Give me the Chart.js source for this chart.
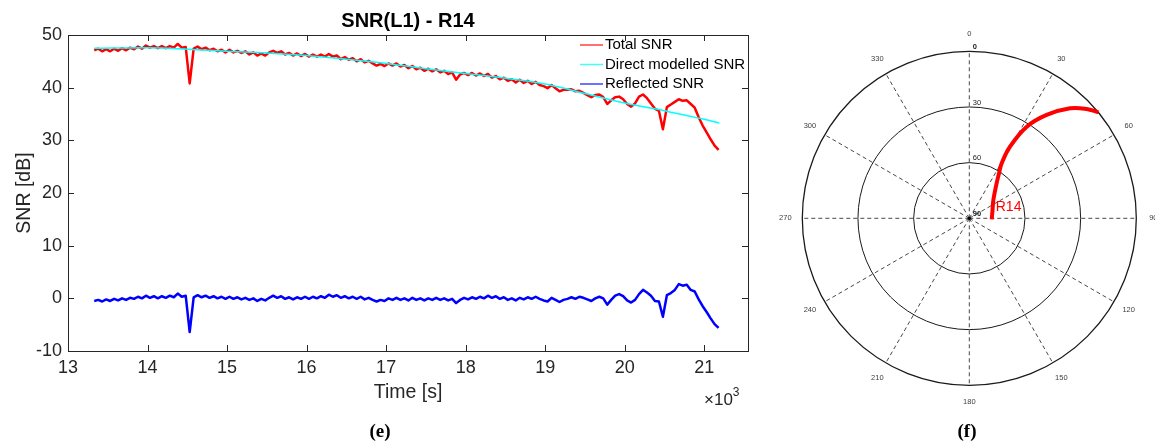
<!DOCTYPE html>
<html>
<head>
<meta charset="utf-8">
<script src="https://cdn.jsdelivr.net/npm/chart.js@4.4.0/dist/chart.umd.min.js"></script>
<style>
    html, body { margin: 0; padding: 0; background: #fff; }
    #wrap { position: relative; width: 1155px; height: 446px; overflow: hidden; }
    canvas { position: absolute; top: 0; }
    #snr-chart { left: 0; }
    #sky-chart { left: 755px; }
</style>
</head>
<body>
<div id="wrap">
    <canvas id="snr-chart" width="755" height="446"></canvas>
    <canvas id="sky-chart" width="400" height="446"></canvas>
</div>
<script>
const SANS = '"Liberation Sans", Arial, Helvetica, sans-serif';
const SERIF = '"Liberation Serif", "Times New Roman", serif';
const AXIS_COLOR = '#262626';

// SNR(L1) samples [dB], one every snrStep seconds starting at snrStart
const snrStart = 13330;
const snrStep = 50;
const totalSNR = [
    47.1, 47.4, 46.9, 47.3, 46.9, 47.4, 47.0, 47.5, 47.1, 47.6,
    47.3, 47.8, 47.4, 48.0, 47.6, 47.9, 47.5, 47.9, 47.5, 47.9,
    47.6, 48.3, 47.6, 47.7, 40.8, 47.4, 47.8, 47.3, 47.6, 47.1,
    47.4, 46.9, 47.2, 46.7, 47.2, 46.7, 47.0, 46.6, 46.9, 46.3,
    46.7, 46.1, 46.5, 46.1, 46.7, 47.0, 46.6, 46.9, 46.3, 46.6,
    46.1, 46.5, 46.0, 46.4, 45.9, 46.3, 45.9, 46.3, 45.9, 46.4,
    45.9, 46.1, 45.4, 45.8, 45.3, 45.6, 45.0, 45.4, 44.8, 45.1,
    44.6, 44.2, 44.5, 44.1, 44.6, 44.2, 44.6, 44.0, 44.3, 43.7,
    44.1, 43.5, 43.8, 43.2, 43.6, 43.1, 43.5, 42.9, 43.2, 42.6,
    42.9, 41.5, 42.5, 42.8, 42.4, 42.8, 42.3, 42.7, 42.2, 42.6,
    41.9, 42.2, 41.6, 41.9, 41.3, 41.6, 41.0, 41.5, 40.9, 41.3,
    40.7, 41.1, 40.5, 40.3, 39.9, 40.5, 39.9, 39.3, 39.6, 39.6,
    39.7, 39.3, 39.4, 39.0, 38.6, 38.2, 38.6, 38.7, 38.2, 36.9,
    37.6, 38.2, 38.3, 37.8, 36.9, 36.4, 37.0, 38.3, 38.7, 38.0,
    37.0, 36.0, 35.6, 32.1, 36.3, 36.8, 37.3, 37.8, 37.5, 37.6,
    36.9, 36.2, 34.4, 32.8, 31.5, 30.2, 29.0, 28.2
];
const reflectedSNR = [
    -0.5, -0.3, -0.6, -0.2, -0.5, -0.1, -0.4, 0.0, -0.3, 0.1,
    -0.1, 0.3, 0.0, 0.5, 0.1, 0.4, 0.0, 0.4, 0.1, 0.5,
    0.2, 0.9, 0.3, 0.5, -6.4, 0.2, 0.6, 0.2, 0.5, 0.1,
    0.4, 0.0, 0.3, -0.1, 0.3, -0.1, 0.2, -0.2, 0.1, -0.3,
    0.0, -0.5, -0.1, -0.4, 0.1, 0.5, 0.1, 0.4, -0.1, 0.2,
    -0.2, 0.2, -0.1, 0.3, -0.1, 0.3, 0.0, 0.4, 0.1, 0.7,
    0.3, 0.6, 0.1, 0.4, 0.0, 0.3, -0.1, 0.3, -0.2, 0.1,
    -0.3, -0.6, -0.3, -0.5, 0.0, -0.3, 0.1, -0.3, 0.0, -0.4,
    0.1, -0.3, 0.0, -0.4, 0.0, -0.3, 0.1, -0.3, 0.0, -0.4,
    -0.1, -0.9, -0.3, 0.1, -0.2, 0.2, -0.1, 0.3, 0.0, 0.5,
    0.1, 0.4, -0.1, 0.2, -0.3, 0.0, -0.4, 0.1, -0.2, 0.2,
    -0.1, 0.3, -0.1, -0.4, -0.6, 0.1, -0.3, -0.7, -0.3, -0.1,
    0.2, -0.1, 0.3, 0.1, -0.2, -0.5, 0.0, 0.3, 0.0, -1.2,
    -0.3, 0.5, 0.8, 0.4, -0.4, -0.8, -0.3, 0.8, 1.6, 1.1,
    0.5, -0.5, -0.6, -3.5, 0.6, 1.0, 1.6, 2.7, 2.4, 2.6,
    1.6, 1.3, -0.2, -1.5, -2.6, -3.8, -4.9, -5.6
];

// Direct modelled SNR (smooth)
const directTime = [13330, 14000, 14500, 15000, 15500, 16000, 16500, 17000, 17500,
    18000, 18500, 19000, 19500, 20000, 20500, 21000, 21190];
const directSNR = [47.5, 47.6, 47.3, 46.9, 46.6, 46.1, 45.4, 44.6, 43.6,
    42.7, 41.8, 40.7, 38.9, 37.1, 35.6, 34.0, 33.3];

// axis ticks
const timeTicks = [13000, 14000, 15000, 16000, 17000, 18000, 19000, 20000, 21000];
const snrTicks = [-10, 0, 10, 20, 30, 40, 50];

// R14 sky track, azimuth / elevation [deg], in time order
const trackAz = [92.6, 70.3, 52.7, 38.0, 33.5, 30.5, 29.6, 32.1, 36.8, 42.5, 47.0, 50.6];
const trackEl = [77.9, 76.7, 73.7, 66.1, 61.0, 55.6, 45.6, 31.7, 20.4, 9.6, 3.6, 0.0];

const azimuthLabels = [0, 30, 60, 90, 120, 150, 180, 210, 240, 270, 300, 330];
const elevationRings = [0, 30, 60];
const elevationLabels = [0, 30, 60, 90];

const toPoints = (values) => values.map((v, i) => ({ x: snrStart + i * snrStep, y: v }));

// elevation 90 at the centre, 0 on the rim
const skyPoint = (az, el) => {
    const r = 90 - el;
    const a = az * Math.PI / 180;
    return { x: r * Math.sin(a), y: r * Math.cos(a) };
};

// ---------- (e) SNR time series ----------
const snrFrame = {
    id: 'snrFrame',
    afterDraw(chart) {
        const { ctx, chartArea: a, scales: { x, y } } = chart;
        ctx.save();

        // box + inward ticks on all four sides
        ctx.strokeStyle = AXIS_COLOR;
        ctx.lineWidth = 1;
        ctx.strokeRect(a.left + 0.5, a.top + 0.5, a.right - a.left, a.bottom - a.top);
        const len = 6;
        ctx.beginPath();
        x.ticks.forEach(t => {
            const px = Math.round(x.getPixelForValue(t.value)) + 0.5;
            ctx.moveTo(px, a.bottom); ctx.lineTo(px, a.bottom - len);
            ctx.moveTo(px, a.top); ctx.lineTo(px, a.top + len);
        });
        y.ticks.forEach(t => {
            const py = Math.round(y.getPixelForValue(t.value)) + 0.5;
            ctx.moveTo(a.left, py); ctx.lineTo(a.left + len, py);
            ctx.moveTo(a.right, py); ctx.lineTo(a.right - len, py);
        });
        ctx.stroke();

        // title
        ctx.fillStyle = '#000';
        ctx.font = `bold 20px ${SANS}`;
        ctx.textAlign = 'center';
        ctx.textBaseline = 'middle';
        ctx.fillText('SNR(L1) - R14', (a.left + a.right) / 2, 21);

        // x10^3 exponent
        ctx.fillStyle = AXIS_COLOR;
        ctx.textAlign = 'left';
        ctx.textBaseline = 'alphabetic';
        ctx.font = `17px ${SANS}`;
        const base = '\u00d710';
        ctx.fillText(base, 704, 405);
        const w = ctx.measureText(base).width;
        ctx.font = `12px ${SANS}`;
        ctx.fillText('3', 704 + w, 396);

        // panel tag
        ctx.fillStyle = '#000';
        ctx.font = `bold 19px ${SERIF}`;
        ctx.textAlign = 'center';
        ctx.textBaseline = 'middle';
        ctx.fillText('(e)', 380, 432);

        // legend (top right, inside the axes)
        ctx.font = `15px ${SANS}`;
        ctx.textAlign = 'left';
        chart.data.datasets.forEach((ds, i) => {
            const ly = a.top + 10 + i * 19.5;
            ctx.strokeStyle = ds.borderColor;
            ctx.globalAlpha = 0.75;
            ctx.lineWidth = 1.5;
            ctx.beginPath();
            ctx.moveTo(a.right - 168, ly);
            ctx.lineTo(a.right - 145, ly);
            ctx.stroke();
            ctx.globalAlpha = 1;
            ctx.fillStyle = '#000';
            ctx.fillText(ds.label, a.right - 143, ly);
        });
        ctx.restore();
    }
};

new Chart(document.getElementById('snr-chart'), {
    type: 'line',
    data: {
        datasets: [{
            label: 'Total SNR',
            data: toPoints(totalSNR),
            borderColor: '#ff0000',
            borderWidth: 2.5,
            order: 2,
        }, {
            label: 'Direct modelled SNR',
            data: directTime.map((t, i) => ({ x: t, y: directSNR[i] })),
            borderColor: '#00ffff',
            borderWidth: 1.5,
            cubicInterpolationMode: 'monotone',
            order: 1,
        }, {
            label: 'Reflected SNR',
            data: toPoints(reflectedSNR),
            borderColor: '#0000ff',
            borderWidth: 2.5,
            order: 3,
        }]
    },
    options: {
        responsive: false,
        animation: false,
        devicePixelRatio: 1,
        layout: { padding: { top: 35, right: 7, left: 0, bottom: 0 } },
        elements: {
            point: { radius: 0 },
            line: { borderJoinStyle: 'round', tension: 0 }
        },
        scales: {
            x: {
                type: 'linear',
                min: 13000,
                max: 21550,
                grid: { display: false, drawTicks: false },
                border: { display: false },
                ticks: {
                    padding: 6.5,
                    maxRotation: 0,
                    color: AXIS_COLOR,
                    font: { family: SANS, size: 18 },
                    callback: (v) => v / 1000,
                },
                afterBuildTicks: (scale) => { scale.ticks = timeTicks.map(v => ({ value: v })); },
                title: {
                    display: true,
                    text: 'Time [s]',
                    color: AXIS_COLOR,
                    font: { family: SANS, size: 19.5 },
                    padding: { top: 0, bottom: 41.5 },
                },
                afterFit: (scale) => {
                    scale.height = 95;
                    scale.paddingLeft = 0;
                    scale.paddingRight = 0;
                },
            },
            y: {
                min: -10,
                max: 50,
                grid: { display: false, drawTicks: false },
                border: { display: false },
                ticks: {
                    padding: 6,
                    color: AXIS_COLOR,
                    font: { family: SANS, size: 18 },
                },
                afterBuildTicks: (scale) => { scale.ticks = snrTicks.map(v => ({ value: v })); },
                title: {
                    display: true,
                    text: 'SNR [dB]',
                    color: AXIS_COLOR,
                    font: { family: SANS, size: 19.5 },
                    padding: { top: 12.5, bottom: 0 },
                },
                afterFit: (scale) => { scale.width = 68; },
            }
        },
        plugins: {
            legend: { display: false },
            tooltip: { enabled: false },
        }
    },
    plugins: [snrFrame]
});

// ---------- (f) sky plot ----------
const skyGrid = {
    id: 'skyGrid',
    beforeDatasetsDraw(chart) {
        const { ctx, scales: { x, y } } = chart;
        const cx = x.getPixelForValue(0);
        const cy = y.getPixelForValue(0);
        const radius = (el) => x.getPixelForValue(90 - el) - cx;
        const outer = radius(0);
        ctx.save();

        // dashed azimuth spokes
        ctx.strokeStyle = '#333';
        ctx.lineWidth = 0.9;
        ctx.setLineDash([4, 3]);
        ctx.beginPath();
        azimuthLabels.forEach(az => {
            const a = az * Math.PI / 180;
            ctx.moveTo(cx, cy);
            ctx.lineTo(cx + outer * Math.sin(a), cy - outer * Math.cos(a));
        });
        ctx.stroke();
        ctx.setLineDash([]);

        // elevation rings
        ctx.strokeStyle = '#1a1a1a';
        elevationRings.forEach(el => {
            ctx.lineWidth = el === 0 ? 1.3 : 1;
            ctx.beginPath();
            ctx.arc(cx, cy, radius(el), 0, Math.PI * 2);
            ctx.stroke();
        });

        // centre dot
        ctx.fillStyle = '#000';
        ctx.beginPath();
        ctx.arc(cx, cy, 1.6, 0, Math.PI * 2);
        ctx.fill();

        // azimuth labels
        ctx.fillStyle = '#404040';
        ctx.font = `7.5px ${SANS}`;
        ctx.textAlign = 'center';
        ctx.textBaseline = 'middle';
        azimuthLabels.forEach(az => {
            const a = az * Math.PI / 180;
            const r = outer + 17;
            ctx.fillText(String(az), cx + r * Math.sin(a), cy - r * Math.cos(a));
        });

        // elevation labels along the 0 deg spoke
        ctx.fillStyle = '#222';
        ctx.textAlign = 'left';
        elevationLabels.forEach(el => {
            ctx.font = (el === 0 || el === 90 ? 'bold ' : '') + `7.5px ${SANS}`;
            ctx.fillText(String(el), cx + 3.5, cy - radius(el) - 4.5);
        });

        // panel tag
        ctx.fillStyle = '#000';
        ctx.font = `bold 19px ${SERIF}`;
        ctx.textAlign = 'center';
        ctx.fillText('(f)', 212, 432);
        ctx.restore();
    },
    afterDatasetsDraw(chart) {
        const { ctx } = chart;
        const first = chart.getDatasetMeta(0).data[0];
        ctx.save();
        ctx.fillStyle = '#ff0000';
        ctx.font = `14px ${SANS}`;
        ctx.textAlign = 'left';
        ctx.textBaseline = 'middle';
        ctx.fillText(chart.data.datasets[0].label, first.x + 4, first.y - 12.5);
        ctx.restore();
    }
};

new Chart(document.getElementById('sky-chart'), {
    type: 'scatter',
    data: {
        datasets: [{
            label: 'R14',
            data: trackAz.map((az, i) => skyPoint(az, trackEl[i])),
            showLine: true,
            borderColor: '#ff0000',
            borderWidth: 4,
            borderCapStyle: 'butt',
            pointRadius: 0,
            tension: 0.4,
            clip: false,
        }]
    },
    options: {
        responsive: false,
        animation: false,
        devicePixelRatio: 1,
        layout: { padding: { left: 47.3, right: 18.7, top: 51.3, bottom: 60.7 } },
        scales: {
            x: { type: 'linear', min: -90, max: 90, display: false },
            y: { type: 'linear', min: -90, max: 90, display: false },
        },
        plugins: {
            legend: { display: false },
            tooltip: { enabled: false },
        }
    },
    plugins: [skyGrid]
});
</script>
</body>
</html>
